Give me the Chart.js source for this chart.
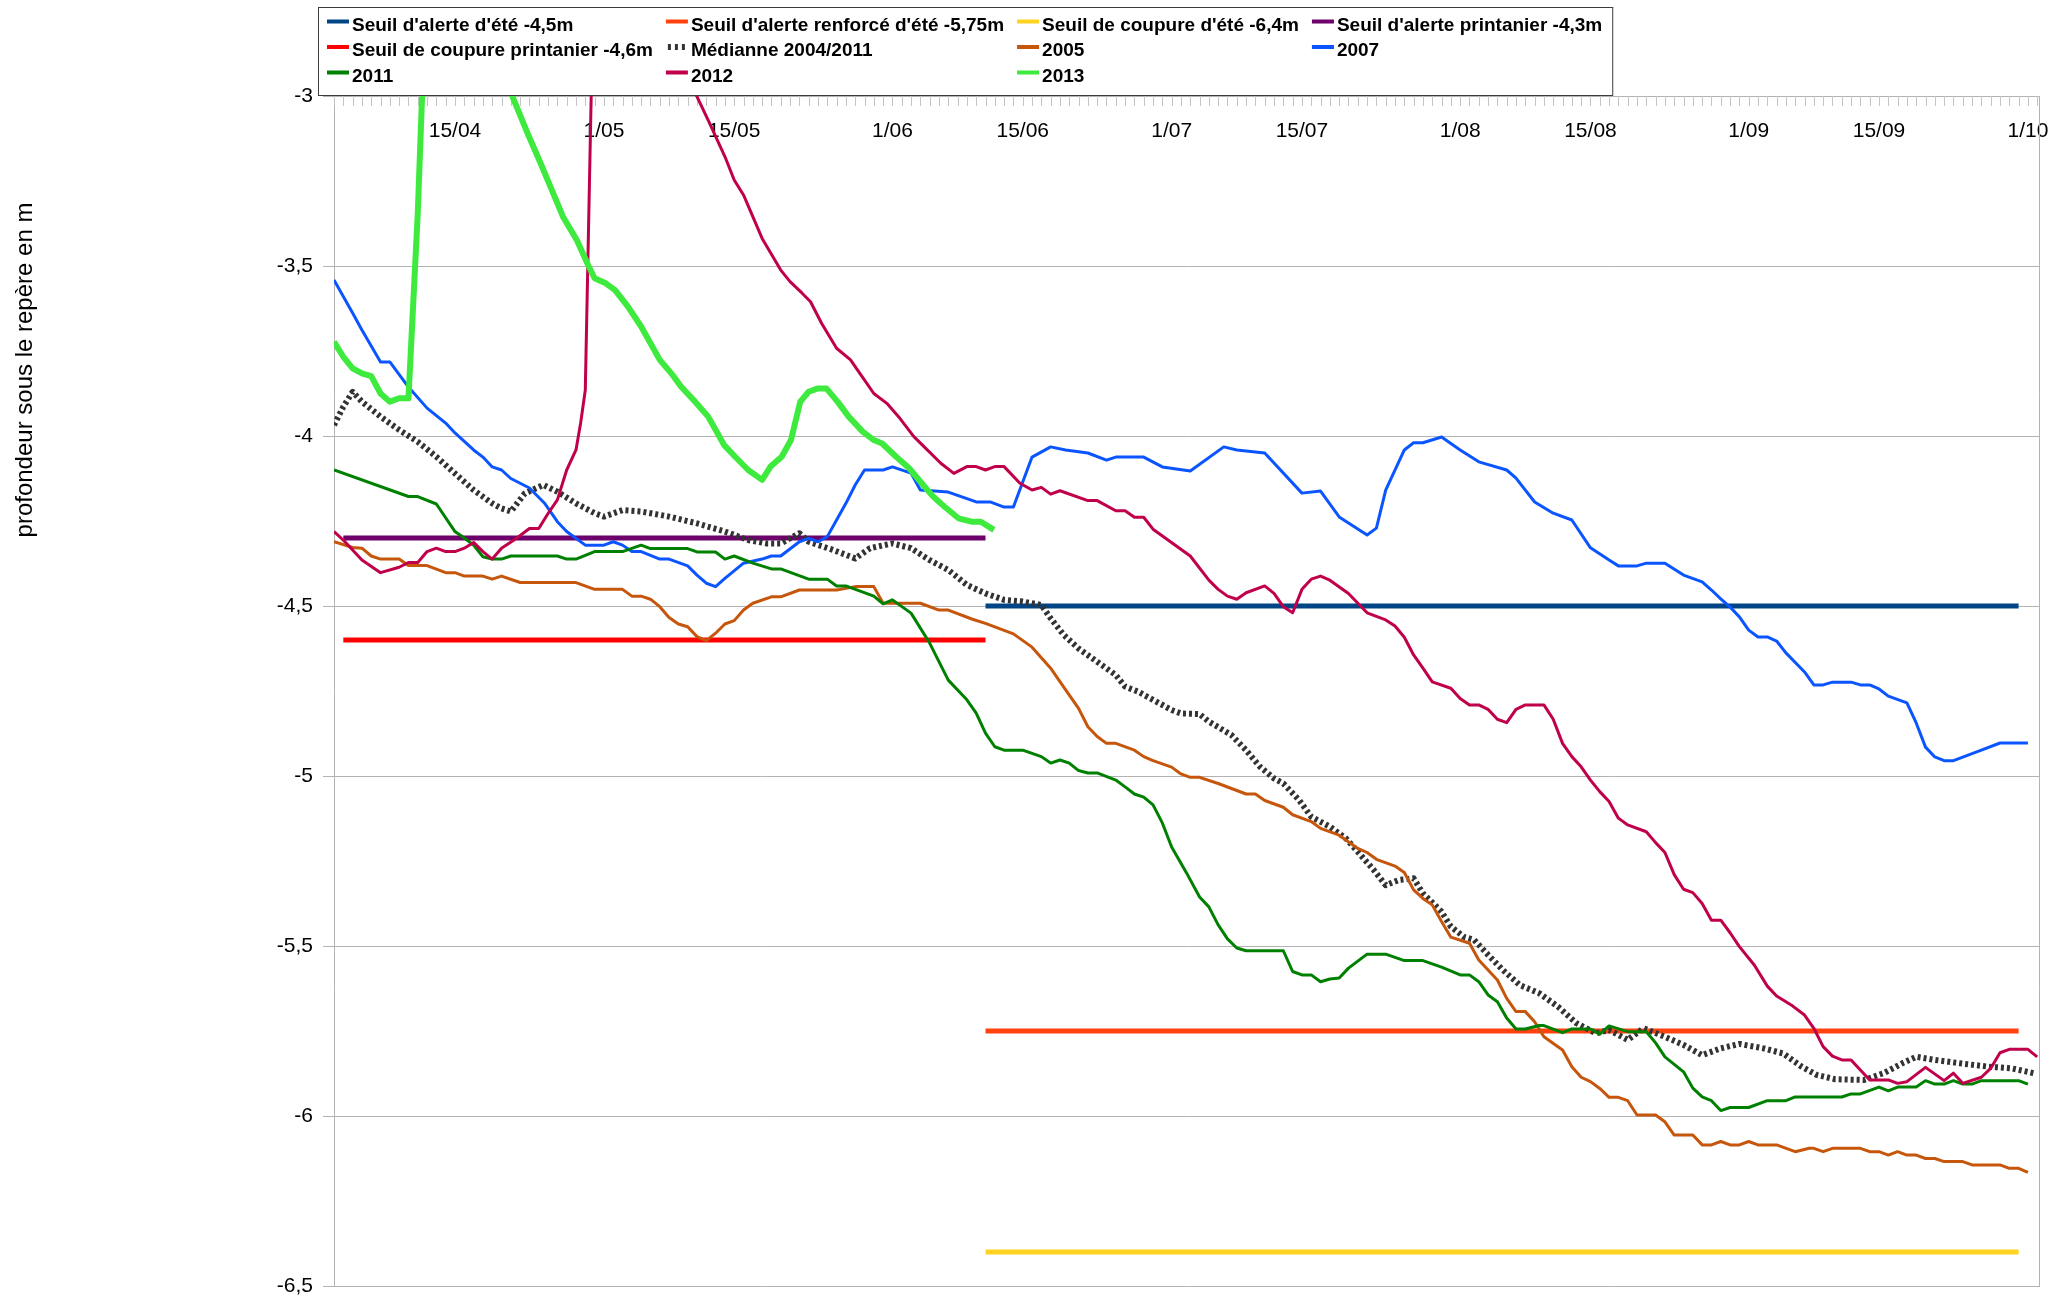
<!DOCTYPE html>
<html>
<head>
<meta charset="utf-8">
<script src="https://cdn.jsdelivr.net/npm/chart.js@4.4.1/dist/chart.umd.min.js"></script>
<style>
html,body{margin:0;padding:0;background:#fff;overflow:hidden}
canvas{display:block}
</style>
</head>
<body>
<canvas id="chart" width="2051" height="1304"></canvas>
<script>
// ---- axis labels ----
// day index: 0 = 2/04
const xTickDays = [13, 29, 43, 60, 74, 90, 104, 121, 135, 152, 166, 182];
const xTickLabels = ["15/04", "1/05", "15/05", "1/06", "15/06", "1/07", "15/07", "1/08", "15/08", "1/09", "15/09", "1/10"];
const yTickValues = [-3, -3.5, -4, -4.5, -5, -5.5, -6, -6.5];
const yTickLabels = ["-3", "-3,5", "-4", "-4,5", "-5", "-5,5", "-6", "-6,5"];
const yTitleText = "profondeur sous le repère en m";

// ---- thresholds ----
const springDays = [1, 70];
const summerDays = [70, 181];
const alerteEte = [-4.5, -4.5];
const alerteRenforceEte = [-5.75, -5.75];
const coupureEte = [-6.4, -6.4];
const alertePrintemps = [-4.3, -4.3];
const coupurePrintemps = [-4.6, -4.6];

// ---- median 2004/2011 ----
const daysMedian = [0,1,2,3,5,7,9,11,13,15,17,18,19,20.5,22.5,24,26,28,29,31,33,36,39,42,44.5,46.5,48,50,51,53.6,56,57.6,60,62,64,66,68,70,72,74,76,77,78.4,80,82,84,85,86.4,88,90,91,93,94,96.4,98,99.5,101,102,103.7,105,107,108.7,110,111.7,113,114.4,116,117,119,120,121.4,122.5,124,125.6,127.4,129.5,131.5,133.5,135.6,137,139,140.7,143,145,147,149,151,153.6,155.7,157.7,159.3,161.3,164.4,166.5,168.5,170,172,174.7,177.8,180.3,182.6];
const depthMedian = [-3.968,-3.914,-3.870,-3.899,-3.943,-3.982,-4.017,-4.061,-4.110,-4.159,-4.198,-4.213,-4.222,-4.169,-4.144,-4.164,-4.198,-4.227,-4.237,-4.218,-4.222,-4.237,-4.257,-4.281,-4.306,-4.316,-4.316,-4.286,-4.311,-4.335,-4.360,-4.330,-4.316,-4.330,-4.365,-4.394,-4.438,-4.463,-4.482,-4.487,-4.497,-4.536,-4.585,-4.625,-4.664,-4.703,-4.737,-4.752,-4.776,-4.806,-4.816,-4.818,-4.840,-4.879,-4.924,-4.973,-5.007,-5.022,-5.071,-5.120,-5.149,-5.183,-5.223,-5.276,-5.321,-5.306,-5.301,-5.345,-5.399,-5.443,-5.473,-5.482,-5.526,-5.571,-5.615,-5.639,-5.678,-5.727,-5.757,-5.747,-5.776,-5.742,-5.767,-5.791,-5.821,-5.801,-5.788,-5.801,-5.816,-5.855,-5.879,-5.892,-5.894,-5.874,-5.845,-5.826,-5.835,-5.845,-5.855,-5.860,-5.874];

// ---- 2005 ----
const days2005 = [0,2,3,4,5,7,8,10,12,13,14,16,17,18,20,26,28,31,32,33,34,35,36,37,38,39,40,41,42,43,44,45,47,48,50,54,56,58,59,63,65,66,68.6,70,73,75,77,78.5,80,81,82,83,84,86,87,88,90,91,92,93,95,98,99,100,102,103,105,106,108,110,111,112,114,115,116,117,118,119,120,122,123,125,126,127,128,129,130,132,133,134,135,136,137,138,139,140,142,143,144,146,147,148,149,150,151,152,153,155,157,158.5,159,160,161,164,165,166,167,168,169,170,171,172,173,175,176,179,180,181,182];
const depth2005 = [-4.311,-4.328,-4.330,-4.353,-4.362,-4.362,-4.381,-4.381,-4.402,-4.402,-4.412,-4.412,-4.421,-4.412,-4.431,-4.431,-4.451,-4.451,-4.471,-4.471,-4.480,-4.502,-4.534,-4.553,-4.561,-4.590,-4.602,-4.580,-4.553,-4.543,-4.512,-4.492,-4.473,-4.473,-4.453,-4.453,-4.443,-4.443,-4.492,-4.492,-4.512,-4.512,-4.539,-4.551,-4.582,-4.621,-4.683,-4.742,-4.801,-4.855,-4.884,-4.904,-4.904,-4.924,-4.943,-4.955,-4.974,-4.994,-5.004,-5.004,-5.022,-5.053,-5.053,-5.072,-5.092,-5.114,-5.134,-5.154,-5.174,-5.213,-5.225,-5.245,-5.265,-5.284,-5.335,-5.360,-5.379,-5.428,-5.474,-5.492,-5.541,-5.600,-5.654,-5.693,-5.693,-5.723,-5.767,-5.806,-5.855,-5.886,-5.899,-5.919,-5.945,-5.945,-5.955,-5.997,-5.997,-6.017,-6.056,-6.056,-6.085,-6.085,-6.075,-6.085,-6.085,-6.075,-6.085,-6.085,-6.105,-6.095,-6.095,-6.105,-6.095,-6.095,-6.105,-6.105,-6.115,-6.105,-6.115,-6.115,-6.125,-6.125,-6.134,-6.134,-6.144,-6.144,-6.154,-6.154,-6.166];

// ---- 2007 ----
const days2007 = [0,2,3,5,6,8,10,12,13,15,16,17,18,19,21,22.6,24,25,27,29,30,31,32,33,35,36,38,39,40,41,42,44,46,47,48,50,51,52,53,54,55,56,57,59,60,62,63,66,69,70.5,72,73,75,77,78.6,81,83,84,87,89,92,95.6,97,100,104,106,108,111,112,113,115,116,117,119,121,123,126,127,129,131,133,135,137,138,140,141,143,145,147,148,149,150,151,152,153,154,155,156,158,159,160,161,163,164,165,166,167,169,170,171,172,173,174,177,179,182];
const depth2007 = [-3.541,-3.638,-3.688,-3.782,-3.782,-3.856,-3.918,-3.962,-3.991,-4.041,-4.062,-4.091,-4.100,-4.125,-4.153,-4.197,-4.252,-4.281,-4.321,-4.321,-4.311,-4.321,-4.340,-4.340,-4.362,-4.362,-4.382,-4.409,-4.433,-4.443,-4.419,-4.374,-4.362,-4.353,-4.353,-4.311,-4.301,-4.311,-4.296,-4.247,-4.198,-4.144,-4.100,-4.100,-4.091,-4.109,-4.159,-4.165,-4.194,-4.194,-4.209,-4.209,-4.062,-4.032,-4.041,-4.050,-4.071,-4.062,-4.062,-4.091,-4.103,-4.032,-4.041,-4.050,-4.168,-4.162,-4.238,-4.291,-4.271,-4.159,-4.041,-4.020,-4.020,-4.003,-4.041,-4.076,-4.100,-4.124,-4.194,-4.227,-4.247,-4.329,-4.365,-4.382,-4.382,-4.374,-4.374,-4.409,-4.429,-4.453,-4.479,-4.503,-4.532,-4.571,-4.591,-4.591,-4.603,-4.638,-4.694,-4.732,-4.732,-4.724,-4.724,-4.732,-4.732,-4.744,-4.765,-4.785,-4.844,-4.915,-4.944,-4.955,-4.955,-4.924,-4.903,-4.903];

// ---- 2011 ----
const days2011 = [0,8,9,11,13,14,15,16,17,18,19,24,25,26,28,31,33,34,38,39,41,42,43,45,47,48,51,53,54,55,58,59,60,62,64,66,68,69,70,71,72,74,76,77,78,79,80,81,82,84,85,86,87,88,89,90,91.6,93,94,95,96,97,98,102,103,104,105,106,107,108,109,111,113,115,117,119,121,122,123,124,125,126,127,128,129.5,130,132,133,135,136,137,139,141,142,143,145,146,147,148,149,150,152,154,156,157,162,163,164,166,167,168,170,171,172,173,174,175,176,177,181,182];
const depth2011 = [-4.100,-4.178,-4.178,-4.200,-4.281,-4.300,-4.321,-4.355,-4.362,-4.362,-4.353,-4.353,-4.362,-4.362,-4.340,-4.340,-4.321,-4.331,-4.331,-4.341,-4.341,-4.362,-4.353,-4.374,-4.391,-4.391,-4.421,-4.421,-4.441,-4.441,-4.471,-4.494,-4.482,-4.521,-4.609,-4.718,-4.776,-4.815,-4.874,-4.914,-4.924,-4.924,-4.943,-4.962,-4.953,-4.962,-4.984,-4.991,-4.991,-5.012,-5.032,-5.053,-5.062,-5.085,-5.138,-5.209,-5.285,-5.356,-5.385,-5.438,-5.479,-5.506,-5.514,-5.514,-5.575,-5.585,-5.585,-5.605,-5.597,-5.594,-5.565,-5.524,-5.524,-5.543,-5.543,-5.562,-5.585,-5.585,-5.605,-5.644,-5.664,-5.712,-5.744,-5.744,-5.734,-5.734,-5.755,-5.744,-5.744,-5.759,-5.735,-5.752,-5.752,-5.785,-5.826,-5.870,-5.918,-5.944,-5.955,-5.984,-5.975,-5.975,-5.955,-5.955,-5.944,-5.944,-5.935,-5.935,-5.915,-5.926,-5.915,-5.915,-5.896,-5.906,-5.906,-5.896,-5.906,-5.906,-5.896,-5.896,-5.906];

// ---- 2012 ----
const days2012 = [0,1,3,5,7,8,9,10,11,12,13,14,15,16,17,18,19.7,21,22,23,24,25,26,26.5,27,28,30,34,37,39,40.2,42,43,44,46,48,49,50.3,51.2,52.4,54,55.5,56.5,58,59.4,60.8,62.3,63.2,65.2,66.6,68,69,70,71,72,73.7,75,76,77,78,81,82,84,85,86,87,88,92,94,95,96,97,98,100,101,102,103,104,105,106,107,109,111,113,114,115,116,117,118,120,121,122,123,124,125,126,127,128,130,131,132,133,134,135,136,137,138,139,141,142,143,144,145,146,147,148,149,150,151,152.6,154,155,156.7,158,159,160,161,162,163,164,165,167,168,169,171,173,174,175,177,178,179,180,182,183];
const depth2012 = [-4.281,-4.306,-4.365,-4.402,-4.386,-4.372,-4.372,-4.340,-4.330,-4.340,-4.340,-4.330,-4.313,-4.340,-4.362,-4.330,-4.299,-4.272,-4.272,-4.228,-4.188,-4.100,-4.041,-3.962,-3.865,-2.5,-2.3,-2.55,-2.85,-3.002,-3.071,-3.178,-3.247,-3.291,-3.419,-3.512,-3.546,-3.580,-3.605,-3.669,-3.742,-3.776,-3.816,-3.875,-3.904,-3.948,-4.002,-4.026,-4.080,-4.110,-4.090,-4.090,-4.100,-4.090,-4.090,-4.139,-4.159,-4.151,-4.171,-4.161,-4.190,-4.190,-4.220,-4.220,-4.239,-4.239,-4.274,-4.353,-4.424,-4.451,-4.471,-4.480,-4.461,-4.441,-4.463,-4.502,-4.520,-4.451,-4.421,-4.412,-4.424,-4.463,-4.520,-4.541,-4.559,-4.592,-4.644,-4.683,-4.723,-4.742,-4.772,-4.791,-4.791,-4.804,-4.833,-4.843,-4.804,-4.791,-4.791,-4.833,-4.904,-4.943,-4.973,-5.012,-5.046,-5.075,-5.124,-5.144,-5.164,-5.196,-5.225,-5.290,-5.333,-5.343,-5.375,-5.424,-5.424,-5.461,-5.502,-5.556,-5.618,-5.647,-5.676,-5.703,-5.742,-5.796,-5.824,-5.835,-5.835,-5.865,-5.894,-5.894,-5.904,-5.899,-5.857,-5.896,-5.874,-5.904,-5.886,-5.860,-5.814,-5.804,-5.804,-5.826];

// ---- 2013 ----
const days2013 = [0,1,2,3,4,5,6,7,8,9,10,11,13,16,18,19,20.8,22.2,23.4,24.6,26.1,27.3,28,29.2,30.2,31.6,33,35,36.4,37.3,38.8,40.2,41.9,43.1,44.5,46,46.9,48.1,49.1,50.1,51,52,52.9,54.1,55.3,56.8,58,58.9,60.4,61.8,63.3,64.4,65.6,67.1,68.5,69.5,70.9];
const depth2013 = [-3.723,-3.767,-3.801,-3.816,-3.824,-3.875,-3.899,-3.889,-3.889,-3.345,-2.6,-2.5,-2.58,-2.75,-2.88,-2.99,-3.110,-3.198,-3.276,-3.355,-3.424,-3.497,-3.536,-3.551,-3.571,-3.620,-3.678,-3.776,-3.821,-3.855,-3.899,-3.943,-4.026,-4.061,-4.100,-4.129,-4.090,-4.061,-4.012,-3.899,-3.870,-3.860,-3.860,-3.899,-3.943,-3.987,-4.012,-4.022,-4.061,-4.095,-4.144,-4.179,-4.208,-4.242,-4.252,-4.252,-4.276];

// ---------------------------------------------------------------
const FONT = '"Liberation Sans", Arial, Helvetica, sans-serif';
Chart.defaults.font.family = FONT;
Chart.defaults.color = '#000';

function pts(days, vals) { return days.map((d, i) => ({ x: d, y: vals[i] })); }
function series(label, days, vals, color, width, extra) {
  return Object.assign({
    label: label,
    data: pts(days, vals),
    borderColor: color,
    backgroundColor: color,
    borderWidth: width,
    pointRadius: 0,
    pointHoverRadius: 0,
    fill: false,
    tension: 0,
    borderJoinStyle: 'round',
    borderCapStyle: 'butt'
  }, extra || {});
}

const datasets = [
  series("Seuil d'alerte d'été -4,5m", summerDays, alerteEte, '#004586', 5),
  series("Seuil d'alerte renforcé d'été -5,75m", summerDays, alerteRenforceEte, '#ff420e', 5),
  series("Seuil de coupure d'été -6,4m", summerDays, coupureEte, '#ffd320', 5),
  series("Seuil d'alerte printanier -4,3m", springDays, alertePrintemps, '#6d006b', 5),
  series("Seuil de coupure printanier -4,6m", springDays, coupurePrintemps, '#ff0000', 5),
  series("Médianne 2004/2011", daysMedian, depthMedian, '#333333', 6, { borderDash: [3, 3], dotted: true }),
  series("2005", days2005, depth2005, '#c5560b', 3),
  series("2007", days2007, depth2007, '#0a55ff', 3),
  series("2011", days2011, depth2011, '#008000', 3),
  series("2012", days2012, depth2012, '#c0004a', 3),
  series("2013", days2013, depth2013, '#3dea3d', 6)
];
// later series drawn on top, as in the original
datasets.forEach((d, i) => { d.order = datasets.length - i; });

const frameAndDayTicks = {
  id: 'frameAndDayTicks',
  beforeDatasetsDraw(chart) {
    const { ctx, chartArea: a, scales: { x } } = chart;
    ctx.save();
    ctx.strokeStyle = '#b3b3b3';
    ctx.lineWidth = 1;
    ctx.beginPath();
    const r = Math.round(a.right) - 0.5;
    ctx.moveTo(r, a.top); ctx.lineTo(r, a.bottom);
    const t = Math.round(a.top) + 0.5;
    ctx.moveTo(a.left, t); ctx.lineTo(a.right, t);
    ctx.stroke();
    ctx.strokeStyle = '#c4c4c4';
    ctx.beginPath();
    for (let d = Math.ceil(x.min); d <= Math.floor(x.max); d++) {
      const px = Math.round(x.getPixelForValue(d)) + 0.5;
      ctx.moveTo(px, a.top); ctx.lineTo(px, a.top + 10);
    }
    ctx.stroke();
    ctx.restore();
  }
};

const yTitle = {
  id: 'yTitle',
  afterDraw(chart) {
    const ctx = chart.ctx;
    ctx.save();
    ctx.translate(25, 370);
    ctx.rotate(-Math.PI / 2);
    ctx.font = '24px ' + FONT;
    ctx.fillStyle = '#000';
    ctx.textAlign = 'center';
    ctx.textBaseline = 'middle';
    ctx.fillText(yTitleText, 0, 0);
    ctx.restore();
  }
};

const gridLegend = {
  id: 'gridLegend',
  afterDraw(chart) {
    const ctx = chart.ctx;
    const ds = chart.data.datasets;
    const cols = 4;
    ctx.save();
    ctx.font = 'bold 19px ' + FONT;
    const colW = [];
    for (let c = 0; c < cols; c++) {
      let w = 0;
      for (let i = c; i < ds.length; i += cols) w = Math.max(w, ctx.measureText(ds[i].label).width);
      colW.push(w);
    }
    const boxL = 318, boxT = 7, boxB = 95;
    const firstMid = 25.5, rowH = 25.5;
    const markW = 22, markGap = 3, colGap = 13;
    const colX = [];
    let cx = boxL + 9;
    for (let c = 0; c < cols; c++) { colX.push(cx); cx += markW + markGap + colW[c] + colGap; }
    const boxR = cx - colGap + 10;
    ctx.fillStyle = '#fff';
    ctx.fillRect(boxL, boxT, boxR - boxL, boxB - boxT);
    ctx.strokeStyle = '#3c3c3c';
    ctx.lineWidth = 1;
    ctx.strokeRect(boxL + 0.5, boxT + 0.5, boxR - boxL, boxB - boxT);
    ds.forEach((d, i) => {
      const c = i % cols, r = Math.floor(i / cols);
      const ym = firstMid + r * rowH;
      const mx = colX[c];
      ctx.fillStyle = d.borderColor;
      if (d.dotted) {
        for (let k = 0; k < 3; k++) ctx.fillRect(mx + 2 + k * 7, ym - 7, 3, 6);
      } else {
        ctx.fillRect(mx, ym - 6, markW, 4);
      }
      ctx.fillStyle = '#000';
      ctx.textAlign = 'left';
      ctx.textBaseline = 'middle';
      ctx.fillText(d.label, mx + markW + markGap, ym);
    });
    ctx.restore();
  }
};

new Chart(document.getElementById('chart'), {
  type: 'line',
  data: { datasets: datasets },
  options: {
    responsive: false,
    devicePixelRatio: 1,
    animation: false,
    events: [],
    layout: { padding: { top: 96, right: 11, bottom: 18, left: 0 } },
    plugins: { legend: { display: false }, tooltip: { enabled: false }, title: { display: false } },
    scales: {
      x: {
        type: 'linear',
        position: 'top',
        min: 0,
        max: 183.3,
        grid: { display: false, drawTicks: false },
        border: { display: false },
        afterBuildTicks: (s) => { s.ticks = xTickDays.map(v => ({ value: v })); },
        afterFit: (s) => { s.height = 0; s.paddingLeft = 0; s.paddingRight = 0; },
        ticks: {
          mirror: true,
          padding: 23,
          autoSkip: false,
          maxRotation: 0,
          font: { size: 21 },
          color: '#000',
          callback: (v) => { const k = xTickDays.indexOf(v); return k >= 0 ? xTickLabels[k] : ''; }
        }
      },
      y: {
        type: 'linear',
        position: 'left',
        min: -6.5,
        max: -3,
        grid: { color: '#b3b3b3', lineWidth: 1, drawTicks: true, tickLength: 11 },
        border: { display: true, color: '#b3b3b3', width: 1 },
        afterBuildTicks: (s) => { s.ticks = yTickValues.map(v => ({ value: v })); },
        afterFit: (s) => { s.width = 334; s.paddingTop = 0; s.paddingBottom = 0; },
        ticks: {
          padding: 10,
          autoSkip: false,
          font: { size: 21 },
          color: '#000',
          callback: (v) => { const k = yTickValues.indexOf(v); return k >= 0 ? yTickLabels[k] : ''; }
        }
      }
    }
  },
  plugins: [frameAndDayTicks, yTitle, gridLegend]
});
</script>
</body>
</html>
